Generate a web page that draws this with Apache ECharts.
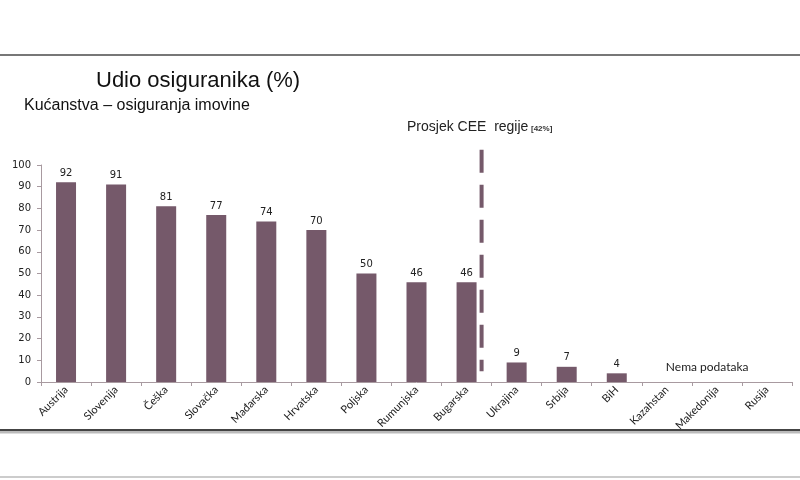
<!DOCTYPE html>
<html><head><meta charset="utf-8">
<script src="https://cdn.jsdelivr.net/npm/echarts@6/dist/echarts.min.js"></script>
<style>html,body{margin:0;padding:0;background:#fff}#c{width:800px;height:480px}</style>
</head><body><div id="c"></div>
<script>
var categories = ['Austrija','Slovenija','Češka','Slovačka','Mađarska','Hrvatska','Poljska','Rumunjska','Bugarska','Ukrajina','Srbija','BiH','Kazahstan','Makedonija','Rusija'];
var values = [92,91,81,77,74,70,50,46,46,9,7,4,null,null,null];
var yTicks = [0,10,20,30,40,50,60,70,80,90,100];
var barColor = '#75596a';
var chart = echarts.init(document.getElementById('c'));
chart.setOption({
  animation:false,
  backgroundColor:'#fff',
  title:[{text:'Udio osiguranika (%)',left:91,top:65,textStyle:{fontFamily:'Liberation Sans',fontSize:22,fontWeight:'normal',color:'#111'}},
         {text:'Kućanstva – osiguranja imovine',left:19,top:93,textStyle:{fontFamily:'Liberation Sans',fontSize:16,fontWeight:'normal',color:'#111'}}],
  grid:{left:41,right:8,top:165,bottom:98},
  xAxis:{type:'category',data:categories,
    axisLine:{lineStyle:{color:'#a89aa0',width:1}},
    axisTick:{show:true,alignWithLabel:false,length:4,lineStyle:{color:'#a89aa0'}},
    axisLabel:{rotate:45,fontFamily:'Lato',fontSize:11,color:'#222',interval:0,margin:6}},
  yAxis:{type:'value',min:0,max:100,interval:10,
    splitLine:{show:false},
    axisLine:{show:true,lineStyle:{color:'#a89aa0'}},
    axisTick:{show:true,length:4,lineStyle:{color:'#a89aa0'}},
    axisLabel:{fontFamily:'DejaVu Sans',fontSize:10,color:'#222',margin:10,
      formatter:function(v){return yTicks.indexOf(v)>=0?String(v):'';}}},
  series:[{type:'bar',data:values,barWidth:20,itemStyle:{color:barColor},
    label:{show:true,position:'top',distance:4,fontFamily:'DejaVu Sans',fontSize:10,color:'#222'}}]
});
function addGraphics(){
  var p8 = chart.convertToPixel({xAxisIndex:0},8);
  var p9 = chart.convertToPixel({xAxisIndex:0},9);
  var xd = p8 + 0.3*(p9-p8);
  var yTop = chart.convertToPixel({yAxisIndex:0},107);
  var yBot = chart.convertToPixel({yAxisIndex:0},5);
  var pn = chart.convertToPixel({xAxisIndex:0},12);
  var yn = chart.convertToPixel({yAxisIndex:0},6);
  chart.setOption({graphic:[
    {type:'line',shape:{x1:0,y1:55,x2:800,y2:55},style:{stroke:'#777',lineWidth:2}},
    {type:'line',shape:{x1:0,y1:432,x2:800,y2:432},style:{stroke:'#bbb',lineWidth:3}},
    {type:'line',shape:{x1:0,y1:430,x2:800,y2:430},style:{stroke:'#444',lineWidth:2}},
    {type:'line',shape:{x1:0,y1:477,x2:800,y2:477},style:{stroke:'#999',lineWidth:1}},
    {type:'line',shape:{x1:xd,y1:yTop,x2:xd,y2:yBot},style:{stroke:barColor,lineWidth:4,lineDash:[23,12]}},
    {type:'text',x:407,y:120,style:{text:'Prosjek CEE  regije',font:'14px "Liberation Sans"',fill:'#222'}},
    {type:'text',x:531,y:125,style:{text:'[42%]',font:'bold 8px "Liberation Sans"',fill:'#333'}},
    {type:'text',x:pn-1,y:yn-8,style:{text:'Nema podataka',font:'12px Lato',fill:'#222'}}
  ]});
}
addGraphics();
</script></body></html>
